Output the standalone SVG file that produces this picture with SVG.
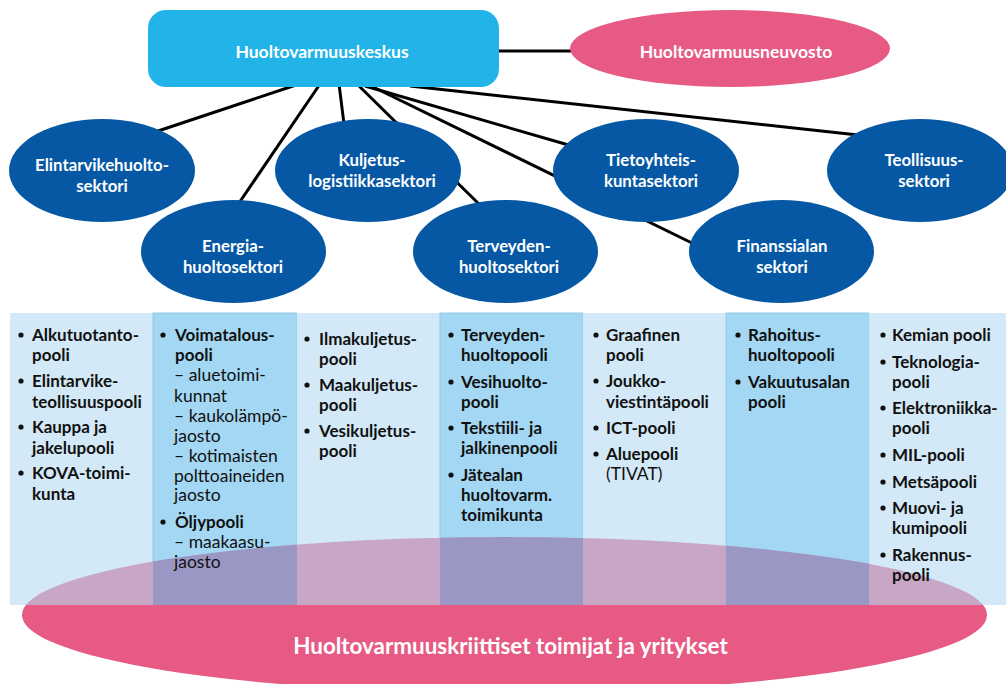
<svg xmlns="http://www.w3.org/2000/svg" width="1006" height="684" viewBox="0 0 1006 684">
<defs>
<style>
.sec{fill:#0658A5}
.st{font-family:Lato,"Liberation Sans",sans-serif;font-weight:700;font-size:16.8px;fill:#fff;text-anchor:middle}
.ct{font-family:Lato,"Liberation Sans",sans-serif;font-size:17.5px;fill:#111}
.b{font-weight:700;font-size:17px}
.con{stroke:#000;stroke-width:3;fill:none}
.lc{fill:#D3E9F7}
.mc{fill:#A3D7F3;stroke:#8DCBEE;stroke-width:1}
.bul{fill:#111}
</style>
<clipPath id="ellClip"><ellipse cx="504.5" cy="615" rx="482.5" ry="78"/></clipPath>
</defs>
<rect width="1006" height="684" fill="#fff"/>

<g id="connectors">
<line class="con" x1="296" y1="85" x2="158" y2="131"/>
<line class="con" x1="320" y1="84" x2="239" y2="203"/>
<line class="con" x1="339" y1="84" x2="344" y2="124"/>
<line class="con" x1="357" y1="84" x2="482" y2="207"/>
<line class="con" x1="365" y1="86" x2="572" y2="146"/>
<line class="con" x1="369" y1="85" x2="694" y2="244"/>
<line class="con" x1="410" y1="86" x2="858" y2="135"/>
<line class="con" x1="495" y1="51" x2="574" y2="51"/>
</g>

<g id="band">
<rect class="lc" x="10" y="313" width="143" height="292"/>
<rect class="mc" x="153" y="313" width="144" height="292"/>
<rect class="lc" x="297" y="313" width="143" height="292"/>
<rect class="mc" x="440" y="313" width="143" height="292"/>
<rect class="lc" x="583" y="313" width="143" height="292"/>
<rect class="mc" x="726" y="313" width="143" height="292"/>
<rect class="lc" x="869" y="313" width="137" height="292"/>
</g>

<g id="toimijat">
<g clip-path="url(#ellClip)">
<rect x="0" y="313" width="1006" height="292" fill="#C8A6C6"/>
<rect x="153" y="313" width="144" height="292" fill="#9A97C5"/>
<rect x="440" y="313" width="143" height="292" fill="#9A97C5"/>
<rect x="726" y="313" width="143" height="292" fill="#9A97C5"/>
<rect x="0" y="605" width="1006" height="90" fill="#E65A84"/>
</g>
<text x="510.5" y="654" style="font-family:Lato,'Liberation Sans',sans-serif;font-weight:700;font-size:22.4px;fill:#fff;text-anchor:middle">Huoltovarmuuskriittiset toimijat ja yritykset</text>
</g>

<g id="col1" class="ct">
<circle class="bul" cx="21" cy="335" r="2.6"/>
<text class="b" x="32" y="341">Alkutuotanto-</text><text class="b" x="32" y="361">pooli</text>
<circle class="bul" cx="21" cy="381" r="2.6"/>
<text class="b" x="32" y="387">Elintarvike-</text><text class="b" x="32" y="408">teollisuuspooli</text>
<circle class="bul" cx="21" cy="427" r="2.6"/>
<text class="b" x="32" y="433">Kauppa ja</text><text class="b" x="32" y="454">jakelupooli</text>
<circle class="bul" cx="21" cy="473" r="2.6"/>
<text class="b" x="32" y="479">KOVA-toimi-</text><text class="b" x="32" y="500">kunta</text>
</g>

<g id="col2" class="ct">
<circle class="bul" cx="163" cy="335" r="2.6"/>
<text class="b" x="175" y="341">Voimatalous-</text><text class="b" x="175" y="361">pooli</text>
<text x="174" y="381">– aluetoimi-</text><text x="174" y="402">kunnat</text>
<text x="174" y="422">– kaukolämpö-</text><text x="174" y="442">jaosto</text>
<text x="174" y="462">– kotimaisten</text><text x="174" y="482">polttoaineiden</text><text x="174" y="501">jaosto</text>
<circle class="bul" cx="163" cy="522" r="2.6"/>
<text class="b" x="175" y="528">Öljypooli</text>
<text x="174" y="548">– maakaasu-</text><text x="174" y="568">jaosto</text>
</g>

<g id="col3" class="ct">
<circle class="bul" cx="307" cy="339" r="2.6"/>
<text class="b" x="319" y="345">Ilmakuljetus-</text><text class="b" x="319" y="365">pooli</text>
<circle class="bul" cx="307" cy="385" r="2.6"/>
<text class="b" x="319" y="391">Maakuljetus-</text><text class="b" x="319" y="411">pooli</text>
<circle class="bul" cx="307" cy="431" r="2.6"/>
<text class="b" x="319" y="437">Vesikuljetus-</text><text class="b" x="319" y="457">pooli</text>
</g>

<g id="col4" class="ct">
<circle class="bul" cx="451" cy="335" r="2.6"/>
<text class="b" x="461" y="341">Terveyden-</text><text class="b" x="461" y="361">huoltopooli</text>
<circle class="bul" cx="451" cy="382" r="2.6"/>
<text class="b" x="461" y="388">Vesihuolto-</text><text class="b" x="461" y="408">pooli</text>
<circle class="bul" cx="451" cy="428" r="2.6"/>
<text class="b" x="461" y="434">Tekstiili- ja</text><text class="b" x="461" y="454">jalkinenpooli</text>
<circle class="bul" cx="451" cy="475" r="2.6"/>
<text class="b" x="461" y="481">Jätealan</text><text class="b" x="461" y="501">huoltovarm.</text><text class="b" x="461" y="521">toimikunta</text>
</g>

<g id="col5" class="ct">
<circle class="bul" cx="596" cy="335" r="2.6"/>
<text class="b" x="606" y="341">Graafinen</text><text class="b" x="606" y="361">pooli</text>
<circle class="bul" cx="596" cy="381" r="2.6"/>
<text class="b" x="606" y="387">Joukko-</text><text class="b" x="606" y="408">viestintäpooli</text>
<circle class="bul" cx="596" cy="428" r="2.6"/>
<text class="b" x="606" y="434">ICT-pooli</text>
<circle class="bul" cx="596" cy="454" r="2.6"/>
<text class="b" x="606" y="460">Aluepooli</text>
<text x="606" y="480">(TIVAT)</text>
</g>

<g id="col6" class="ct">
<circle class="bul" cx="738" cy="335" r="2.6"/>
<text class="b" x="748" y="341">Rahoitus-</text><text class="b" x="748" y="361">huoltopooli</text>
<circle class="bul" cx="738" cy="382" r="2.6"/>
<text class="b" x="748" y="388">Vakuutusalan</text><text class="b" x="748" y="408">pooli</text>
</g>

<g id="col7" class="ct">
<circle class="bul" cx="883" cy="335" r="2.6"/>
<text class="b" x="892" y="341">Kemian pooli</text>
<circle class="bul" cx="883" cy="362" r="2.6"/>
<text class="b" x="892" y="368">Teknologia-</text><text class="b" x="892" y="388">pooli</text>
<circle class="bul" cx="883" cy="408" r="2.6"/>
<text class="b" x="892" y="414">Elektroniikka-</text><text class="b" x="892" y="434">pooli</text>
<circle class="bul" cx="883" cy="455" r="2.6"/>
<text class="b" x="892" y="461">MIL-pooli</text>
<circle class="bul" cx="883" cy="482" r="2.6"/>
<text class="b" x="892" y="488">Metsäpooli</text>
<circle class="bul" cx="883" cy="508" r="2.6"/>
<text class="b" x="892" y="514">Muovi- ja</text><text class="b" x="892" y="534">kumipooli</text>
<circle class="bul" cx="883" cy="555" r="2.6"/>
<text class="b" x="892" y="561">Rakennus-</text><text class="b" x="892" y="581">pooli</text>
</g>

<g id="huoltovarmuuskeskus">
<rect x="148" y="10" width="351" height="77" rx="18" fill="#22B4E8"/>
<text class="st" x="322" y="58" style="font-size:17.5px">Huoltovarmuuskeskus</text>
</g>
<g id="huoltovarmuusneuvosto">
<ellipse cx="730" cy="48.5" rx="160" ry="38.5" fill="#E65A84"/>
<text class="st" x="736" y="58" style="font-size:17.5px">Huoltovarmuusneuvosto</text>
</g>

<g id="elintarvike">
<ellipse class="sec" cx="102" cy="170.5" rx="93" ry="51.5"/>
<text class="st" x="102" y="171">Elintarvikehuolto-</text><text class="st" x="102" y="192">sektori</text>
</g>
<g id="energia">
<ellipse class="sec" cx="233.5" cy="251.5" rx="92.5" ry="51.5"/>
<text class="st" x="233" y="252">Energia-</text><text class="st" x="233" y="273">huoltosektori</text>
</g>
<g id="kuljetus">
<ellipse class="sec" cx="368" cy="170.5" rx="93" ry="51.5"/>
<text class="st" x="372" y="166">Kuljetus-</text><text class="st" x="372" y="187">logistiikkasektori</text>
</g>
<g id="terveyden">
<ellipse class="sec" cx="505.5" cy="251.5" rx="92.5" ry="51.5"/>
<text class="st" x="509" y="252">Terveyden-</text><text class="st" x="509" y="273">huoltosektori</text>
</g>
<g id="tietoyhteiskunta">
<ellipse class="sec" cx="646" cy="170.5" rx="93" ry="51.5"/>
<text class="st" x="651" y="166">Tietoyhteis-</text><text class="st" x="651" y="187">kuntasektori</text>
</g>
<g id="finanssiala">
<ellipse class="sec" cx="781.5" cy="251.5" rx="92.5" ry="51.5"/>
<text class="st" x="782" y="252">Finanssialan</text><text class="st" x="782" y="273">sektori</text>
</g>
<g id="teollisuus">
<ellipse class="sec" cx="920" cy="170.5" rx="93" ry="51.5"/>
<text class="st" x="924" y="166">Teollisuus-</text><text class="st" x="924" y="187">sektori</text>
</g>
</svg>
